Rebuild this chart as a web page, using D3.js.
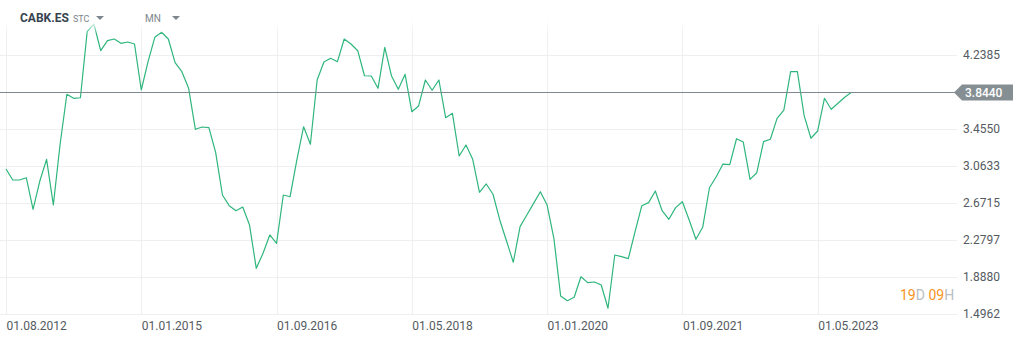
<!DOCTYPE html>
<html>
<head>
<meta charset="utf-8">
<script src="https://cdn.jsdelivr.net/npm/d3@7/dist/d3.min.js"></script>
<style>
  html, body { margin: 0; padding: 0; background: #fff; }
  svg { display: block; font-family: Roboto, "Noto Sans", Arial, sans-serif; }
</style>
</head>
<body>
<svg id="chart" width="1025" height="340"></svg>
<script>
// ---- data ----
const symbol = "CABK.ES";
const symbolTag = "STC";
const interval = "MN";
const values = [
  3.031, 2.915, 2.915, 2.939, 2.605, 2.904, 3.134, 2.650, 3.296, 3.823,
  3.780, 3.786, 4.485, 4.567, 4.284, 4.390, 4.408, 4.362, 4.376, 4.355,
  3.868, 4.168, 4.426, 4.479, 4.408, 4.157, 4.062, 3.886, 3.452, 3.476,
  3.469, 3.204, 2.756, 2.643, 2.590, 2.629, 2.439, 1.980, 2.139, 2.333,
  2.245, 2.756, 2.738, 3.127, 3.479, 3.293, 3.974, 4.164, 4.204, 4.168,
  4.408, 4.355, 4.284, 4.019, 4.016, 3.886, 4.320, 4.016, 3.875, 4.034,
  3.638, 3.699, 3.974, 3.865, 3.974, 3.575, 3.621, 3.169, 3.286, 3.134,
  2.785, 2.873, 2.764, 2.492, 2.269, 2.044, 2.421, 2.544, 2.668, 2.791,
  2.650, 2.298, 1.687, 1.637, 1.673, 1.891, 1.828, 1.835, 1.803, 1.557,
  2.121, 2.103, 2.082, 2.368, 2.643, 2.675, 2.799, 2.590, 2.499, 2.622,
  2.685, 2.492, 2.287, 2.414, 2.833, 2.950, 3.084, 3.077, 3.352, 3.317,
  2.922, 2.992, 3.321, 3.346, 3.568, 3.656, 4.062, 4.062, 3.596, 3.357,
  3.434, 3.780, 3.664, 3.727, 3.791, 3.844
];
const xTickLabels = ["01.08.2012", "01.01.2015", "01.09.2016", "01.05.2018", "01.01.2020", "01.09.2021", "01.05.2023"];
const xTickStep = 20; // data points between labelled ticks
const yTickValues = [1.4962, 1.8880, 2.2797, 2.6715, 3.0633, 3.4550, 3.8468, 4.2385];
const lastPrice = 3.8440;
const countdown = [["19", "D"], ["09", "H"]];

// ---- layout ----
const W = 1025, H = 340;
const plotLeft = 6, plotRight = 957, plotBottom = 314, plotTop = 18;
const svg = d3.select("#chart");

const x = d3.scaleLinear().domain([0, values.length - 1]).range([plotLeft, plotLeft + (values.length - 1) * 6.764]);
const y = d3.scaleLinear().domain([1.4962, 4.6303]).range([plotBottom, plotTop]);

const gridColor = "#efefef";
const textColor = "#555b61";

// horizontal grid
svg.append("g").selectAll("line").data(yTickValues).join("line")
  .attr("x1", 0).attr("x2", plotRight)
  .attr("y1", d => Math.round(y(d)) + 0.5).attr("y2", d => Math.round(y(d)) + 0.5)
  .attr("stroke", gridColor).attr("stroke-width", 1);

// vertical grid
const xTickIdx = xTickLabels.map((_, i) => i * xTickStep);
svg.append("g").selectAll("line").data(xTickIdx).join("line")
  .attr("x1", d => Math.round(x(d)) + 0.5).attr("x2", d => Math.round(x(d)) + 0.5)
  .attr("y1", 0).attr("y2", plotBottom)
  .attr("stroke", gridColor).attr("stroke-width", 1);

// x axis labels via d3 axis
const xAxis = d3.axisBottom(x).tickValues(xTickIdx)
  .tickFormat((d, i) => xTickLabels[i]).tickSize(0).tickPadding(0);
const gx = svg.append("g").attr("transform", `translate(0,${plotBottom})`).call(xAxis);
gx.select(".domain").remove();
gx.selectAll("text")
  .attr("text-anchor", "start").attr("dy", 0).attr("y", 15.5)
  .attr("fill", textColor).style("font-size", "12px").style("font-family", "Roboto, sans-serif");

// y axis labels via d3 axis
const yAxis = d3.axisRight(y).tickValues(yTickValues)
  .tickFormat(d3.format(".4f")).tickSize(0).tickPadding(0);
const gy = svg.append("g").attr("transform", `translate(963,0)`).call(yAxis);
gy.select(".domain").remove();
gy.selectAll("text")
  .attr("fill", textColor).style("font-size", "12px").style("font-family", "Roboto, sans-serif");
gy.selectAll(".tick").filter(d => Math.abs(y(d) - y(lastPrice)) < 12).remove();

// line
const line = d3.line().x((d, i) => x(i)).y(d => y(d));
svg.append("path").datum(values)
  .attr("d", line).attr("fill", "none")
  .attr("stroke", "#2fb67d").attr("stroke-width", 1.2).attr("stroke-linejoin", "round");

// top fade
const defs = svg.append("defs");
const grad = defs.append("linearGradient").attr("id", "fade").attr("x1", 0).attr("x2", 0).attr("y1", 0).attr("y2", 1);
grad.append("stop").attr("offset", "0%").attr("stop-color", "#fff").attr("stop-opacity", 1);
grad.append("stop").attr("offset", "65%").attr("stop-color", "#fff").attr("stop-opacity", 0.95);
grad.append("stop").attr("offset", "100%").attr("stop-color", "#fff").attr("stop-opacity", 0);
svg.append("rect").attr("x", 0).attr("y", 0).attr("width", plotRight).attr("height", 34).attr("fill", "url(#fade)");

// last price line and label
const py = Math.round(y(lastPrice)) + 0.5;
svg.append("line").attr("x1", 0).attr("x2", 955).attr("y1", py).attr("y2", py)
  .attr("stroke", "#7e888d").attr("stroke-width", 1.2);
svg.append("path")
  .attr("d", `M954,${py} L962,${py - 8} L1013,${py - 8} L1013,${py + 8} L962,${py + 8} Z`)
  .attr("fill", "#858e93");
svg.append("text").attr("x", 965).attr("y", py + 4.3)
  .attr("fill", "#fff").style("font-size", "12px").style("font-weight", "500")
  .text(d3.format(".4f")(lastPrice));

// countdown
const cd = svg.append("text").attr("x", 900).attr("y", 300).style("font-size", "14px");
countdown.forEach(([num, unit], i) => {
  cd.append("tspan").attr("fill", "#f7941d").text((i ? " " : "") + num);
  cd.append("tspan").attr("fill", "#b9bec2").text(unit);
});

// header
svg.append("text").attr("x", 20).attr("y", 22).attr("fill", "#36434e")
  .style("font-size", "12px").style("font-weight", "700").text(symbol);
svg.append("text").attr("x", 73).attr("y", 22).attr("fill", "#7d868c")
  .style("font-size", "9px").text(symbolTag);
svg.append("path").attr("d", "M96,16 L104,16 L100,20 Z").attr("fill", "#7d868c");
svg.append("text").attr("x", 145).attr("y", 22).attr("fill", "#7d868c")
  .style("font-size", "10px").text(interval);
svg.append("path").attr("d", "M172,16 L180,16 L176,20 Z").attr("fill", "#7d868c");
</script>
</body>
</html>
